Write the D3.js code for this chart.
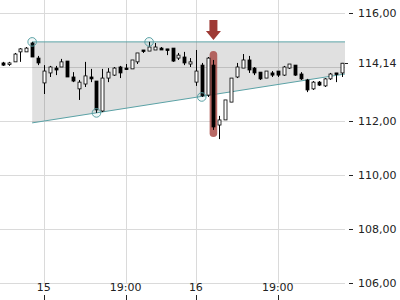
<!DOCTYPE html>
<html>
<head>
<meta charset="utf-8">
<script src="https://cdn.jsdelivr.net/npm/d3@7"></script>
<style>
  body { margin: 0; background: #fff; }
  svg text { font-family: "DejaVu Sans", sans-serif; font-size: 11px; fill: #222; }
</style>
</head>
<body>
<div id="chart"></div>
<script>
// candle prices (one entry per bar)
const open  = [114.15,114.09,114.19,114.56,114.56,114.89,114.33,113.41,113.78,113.96,
               114.00,114.22,113.63,113.19,113.37,113.63,113.48,112.37,113.59,113.70,
               114.00,113.96,113.93,114.19,114.63,114.59,114.63,114.70,114.67,114.70,
               114.33,114.37,114.11,113.44,114.07,112.96,114.07,111.85,112.04,112.70,
               113.63,113.96,114.26,113.96,113.81,113.59,113.78,113.85,113.70,113.96,
               114.07,113.74,113.52,113.19,113.44,113.30,113.56,113.78,113.78];
const high  = [114.19,114.19,114.52,114.70,114.74,114.93,114.41,114.07,114.04,114.04,
               114.30,114.22,113.81,113.52,114.19,113.93,113.48,113.93,113.96,114.00,
               114.04,114.11,114.26,114.52,114.63,114.93,114.89,114.74,114.67,114.70,
               114.52,114.56,114.33,114.63,114.15,114.37,114.26,112.19,112.78,113.59,
               114.15,114.48,114.41,114.00,113.81,113.85,113.85,113.85,114.04,114.11,
               114.07,113.81,113.56,113.48,113.48,113.59,113.78,113.78,114.15];
const low   = [114.04,114.04,114.19,114.19,114.56,114.37,114.07,113.00,113.63,113.70,
               114.00,113.63,113.44,112.78,113.26,113.44,112.30,112.33,113.44,113.67,
               113.59,113.89,113.93,114.11,114.52,114.59,114.63,114.63,114.44,114.19,
               114.26,114.07,114.00,113.30,112.89,112.89,111.67,111.33,112.04,112.70,
               113.59,113.96,113.78,113.70,113.52,113.59,113.63,113.63,113.67,113.93,
               113.67,113.52,113.07,113.15,113.30,113.26,113.52,113.44,113.63];
const close = [114.07,114.15,114.48,114.67,114.70,114.37,114.15,113.85,114.00,113.89,
               114.19,113.63,113.48,113.44,113.67,113.56,112.41,113.59,113.81,113.96,
               113.78,113.91,114.26,114.52,114.59,114.74,114.74,114.63,114.61,114.22,
               114.44,114.15,114.19,113.85,112.93,114.33,111.78,112.04,112.78,113.59,
               114.00,114.26,113.89,113.78,113.56,113.85,113.70,113.70,114.00,114.11,
               113.70,113.56,113.15,113.44,113.33,113.56,113.74,113.74,114.14];

const xTickIdx = [7, 21, 33, 47];
const xTickLabels = ["15", "19:00", "16", "19:00"];
const yTicks = [106, 108, 110, 112, 114, 116];
const yTickLabels = ["106,00", "108,00", "110,00", "112,00", null, "116,00"];
const lastPrice = 114.14;
const lastLabel = "114,14";

// triangle pattern: [bar index, price]
const patternTop = [[5, 114.93], [58.5, 114.93]];
const patternBottom = [[5, 111.93], [58.5, 113.74]];
const pivotIdx = [5, 16, 25, 34];
const pivotPrice = [114.93, 112.30, 114.93, 112.89];

// highlighted bar
const markIdx = 36;
const markRange = [114.59, 111.41];
const arrowRange = [115.74, 115.0];

const width = 400, height = 300;
const plotRight = 345;

const svg = d3.select("#chart").append("svg")
  .attr("width", width).attr("height", height);

const x = d3.scaleLinear().domain([-0.5, 58.5]).range([0, plotRight]);
const y = d3.scaleLinear().domain([106, 116]).range([283, 13]);
const px = v => Math.round(x(v)) + 0.5;

// grid
svg.append("g").selectAll("line").data(yTicks).join("line")
  .attr("x1", 0).attr("x2", plotRight)
  .attr("y1", d => Math.round(y(d)) + 0.5).attr("y2", d => Math.round(y(d)) + 0.5)
  .style("stroke", "#dadada");
svg.append("g").selectAll("line").data(xTickIdx).join("line")
  .attr("x1", d => px(d)).attr("x2", d => px(d))
  .attr("y1", 0).attr("y2", 283)
  .style("stroke", "#dadada");

// pattern area
const area = patternTop.concat(patternBottom.slice().reverse());
svg.append("path")
  .attr("d", d3.line().x(d => x(d[0])).y(d => y(d[1]))(area) + "Z")
  .style("fill", "#000").style("fill-opacity", 0.12);
[patternTop, patternBottom].forEach(seg => {
  svg.append("path")
    .attr("d", d3.line().x(d => x(d[0])).y(d => y(d[1]))(seg))
    .style("fill", "none").style("stroke", "#5ba2a6").style("stroke-width", 1);
});

// highlight bar behind the candle
svg.append("rect")
  .attr("x", x(markIdx) - 3.8).attr("width", 7.6)
  .attr("y", y(markRange[0])).attr("height", y(markRange[1]) - y(markRange[0]))
  .attr("rx", 3.8)
  .style("fill", "#a6443e").style("fill-opacity", 0.8);

// candles
const idx = d3.range(open.length);
const candle = svg.append("g").selectAll("g").data(idx).join("g");
candle.append("line")
  .attr("x1", i => px(i)).attr("x2", i => px(i))
  .attr("y1", i => y(high[i])).attr("y2", i => y(low[i]))
  .style("stroke", "#000");
candle.append("rect")
  .attr("x", i => Math.round(x(i)) - 1)
  .attr("width", 3)
  .attr("y", i => y(Math.max(open[i], close[i])))
  .attr("height", i => Math.max(1.5, Math.abs(y(open[i]) - y(close[i]))))
  .style("fill", i => close[i] >= open[i] ? "#fff" : "#000")
  .style("stroke", "#000").style("stroke-width", 0.8);

// pivot circles
svg.append("g").selectAll("circle").data(pivotIdx).join("circle")
  .attr("cx", i => x(i)).attr("cy", (i, k) => y(pivotPrice[k]))
  .attr("r", 4.3)
  .style("fill", "#5ba2a6").style("fill-opacity", 0.08)
  .style("stroke", "#5ba2a6").style("stroke-width", 1);

// arrow
const ax = x(markIdx), at = y(arrowRange[0]), ab = y(arrowRange[1]);
const ah = (ab - at) * 0.45;
svg.append("path")
  .attr("d", `M${ax - 4},${at} L${ax + 4},${at} L${ax + 4},${ab - ah} L${ax + 7.5},${ab - ah}
              L${ax},${ab} L${ax - 7.5},${ab - ah} L${ax - 4},${ab - ah} Z`)
  .style("fill", "#9e3a35");

// y axis labels
const yl = svg.append("g");
yTicks.forEach((v, k) => {
  if (!yTickLabels[k]) return;
  yl.append("line").attr("x1", 349).attr("x2", 353)
    .attr("y1", Math.round(y(v)) + 0.5).attr("y2", Math.round(y(v)) + 0.5)
    .style("stroke", "#222");
  yl.append("text").attr("x", 358).attr("y", y(v) + 4).text(yTickLabels[k]);
});
yl.append("line").attr("x1", 345).attr("x2", 348)
  .attr("y1", Math.round(y(lastPrice)) + 0.5).attr("y2", Math.round(y(lastPrice)) + 0.5)
  .style("stroke", "#222");
yl.append("text").attr("x", 358).attr("y", y(lastPrice) + 4).text(lastLabel);

// x axis labels
const xl = svg.append("g");
xTickIdx.forEach((v, k) => {
  xl.append("text").attr("x", x(v)).attr("y", 291)
    .style("text-anchor", "middle").text(xTickLabels[k]);
  xl.append("line").attr("x1", px(v)).attr("x2", px(v))
    .attr("y1", 295).attr("y2", 300).style("stroke", "#222");
});
</script>
</body>
</html>
